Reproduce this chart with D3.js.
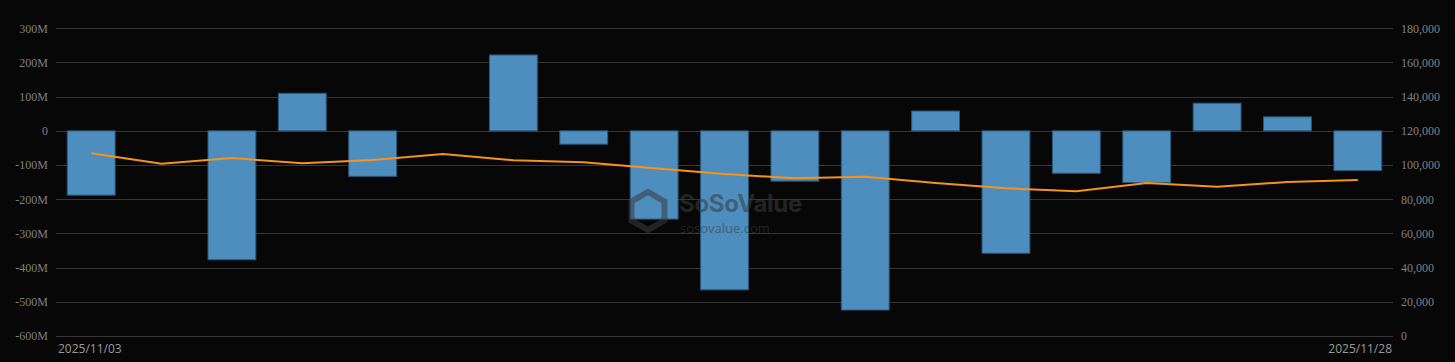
<!DOCTYPE html>
<html>
<head>
<meta charset="utf-8">
<script src="https://cdn.jsdelivr.net/npm/d3@7"></script>
<style>
    html, body { margin: 0; padding: 0; background: #070707; }
    svg { display: block; }
</style>
</head>
<body>
<svg id="chart"></svg>
<script>
// trading days
var dates = ["2025/11/03", "2025/11/04", "2025/11/05", "2025/11/06", "2025/11/07",
    "2025/11/10", "2025/11/11", "2025/11/12", "2025/11/13", "2025/11/14",
    "2025/11/17", "2025/11/18", "2025/11/19", "2025/11/20", "2025/11/21",
    "2025/11/24", "2025/11/25", "2025/11/26", "2025/11/28"];

// daily net inflow, USD
var netInflow = [-188e6, 0, -377e6, 110e6, -133e6,
    0, 222e6, -39e6, -258e6, -465e6,
    -147e6, -524e6, 58e6, -358e6, -124e6,
    -151e6, 81e6, 41e6, -116e6];

// price, right axis
var price = [106870, 100800, 104130, 101020, 102950,
    106460, 102770, 101600, 98100, 94760,
    92250, 93200, 89500, 86400, 84640,
    89500, 87340, 90080, 91250];

var leftTicks = [300e6, 200e6, 100e6, 0, -100e6, -200e6, -300e6, -400e6, -500e6, -600e6];
var rightTicks = [0, 20000, 40000, 60000, 80000, 100000, 120000, 140000, 160000, 180000];

var W = 1455, H = 362;
var margin = { left: 56, right: 62, top: 28.3, bottom: 26 };

var svg = d3.select("#chart").attr("width", W).attr("height", H);
svg.append("rect").attr("width", W).attr("height", H).attr("fill", "#070707");

var x = d3.scaleBand()
    .domain(dates)
    .range([margin.left, W - margin.right])
    .paddingInner(0.32)
    .paddingOuter(0.16);

var yL = d3.scaleLinear().domain([-600e6, 300e6]).range([H - margin.bottom, margin.top]);
var yR = d3.scaleLinear().domain([0, 180000]).range([H - margin.bottom, margin.top]);

// grid
svg.append("g")
    .selectAll("line")
    .data(leftTicks)
    .join("line")
    .attr("x1", margin.left)
    .attr("x2", W - margin.right)
    .attr("y1", function(d) { return Math.round(yL(d)) + 0.5; })
    .attr("y2", function(d) { return Math.round(yL(d)) + 0.5; })
    .attr("stroke", "#363636")
    .attr("stroke-width", 1);

var axisFont = "'Liberation Serif', 'Times New Roman', serif";

var fmtM = function(d) { return d === 0 ? "0" : (d / 1e6) + "M"; };

var leftAxis = svg.append("g")
    .attr("transform", "translate(" + margin.left + ",0)")
    .call(d3.axisLeft(yL).tickValues(leftTicks).tickFormat(fmtM).tickSize(0).tickPadding(8));

var rightAxis = svg.append("g")
    .attr("transform", "translate(" + (W - margin.right) + ",0)")
    .call(d3.axisRight(yR).tickValues(rightTicks).tickFormat(d3.format(",")).tickSize(0).tickPadding(8));

[leftAxis, rightAxis].forEach(function(a) {
    a.select(".domain").remove();
    a.selectAll("text")
        .attr("fill", "#808080")
        .style("font-family", axisFont)
        .style("font-size", "12px");
});

// bars
svg.append("g")
    .selectAll("rect")
    .data(dates)
    .join("rect")
    .attr("x", function(d) { return x(d); })
    .attr("width", x.bandwidth())
    .attr("y", function(d, i) { return yL(Math.max(0, netInflow[i])); })
    .attr("height", function(d, i) { return Math.abs(yL(netInflow[i]) - yL(0)); })
    .attr("fill", "#4d8ebf")
    .attr("stroke", "#2c5878")
    .attr("stroke-width", 1);

// price line
var line = d3.line()
    .x(function(d, i) { return x(dates[i]) + x.bandwidth() / 2; })
    .y(function(d) { return yR(d); });

svg.append("path")
    .datum(price)
    .attr("d", line)
    .attr("fill", "none")
    .attr("stroke", "#f7931a")
    .attr("stroke-width", 2)
    .attr("stroke-linejoin", "round");

// watermark
var wm = svg.append("g").attr("opacity", 0.55);
var hex = d3.range(6).map(function(k) {
    var a = Math.PI / 3 * k + Math.PI / 6;
    return [648 + 19 * Math.cos(a), 211 + 19 * Math.sin(a)];
});
wm.append("path")
    .attr("d", d3.line()(hex) + "Z")
    .attr("fill", "none")
    .attr("stroke", "#3a3a3a")
    .attr("stroke-width", 6);
wm.append("text")
    .attr("x", 679)
    .attr("y", 212)
    .attr("fill", "#3a3a3a")
    .style("font-family", "Inter, 'Noto Sans', sans-serif")
    .style("font-weight", "700")
    .style("font-size", "24px")
    .style("letter-spacing", "-0.3px")
    .text("SoSoValue");
wm.append("text")
    .attr("x", 680)
    .attr("y", 233)
    .attr("fill", "#3a3a3a")
    .style("font-family", "'Open Sans', sans-serif")
    .style("font-size", "13px")
    .text("sosovalue.com");

// first and last date
var dateFont = "'Open Sans', 'Noto Sans', sans-serif";
svg.append("text")
    .attr("x", margin.left + 2)
    .attr("y", 353)
    .attr("fill", "#9a9a9a")
    .style("font-family", dateFont)
    .style("font-size", "12px")
    .text(dates[0]);
svg.append("text")
    .attr("x", W - margin.right - 1)
    .attr("y", 353)
    .attr("text-anchor", "end")
    .attr("fill", "#9a9a9a")
    .style("font-family", dateFont)
    .style("font-size", "12px")
    .text(dates[dates.length - 1]);
</script>
</body>
</html>
